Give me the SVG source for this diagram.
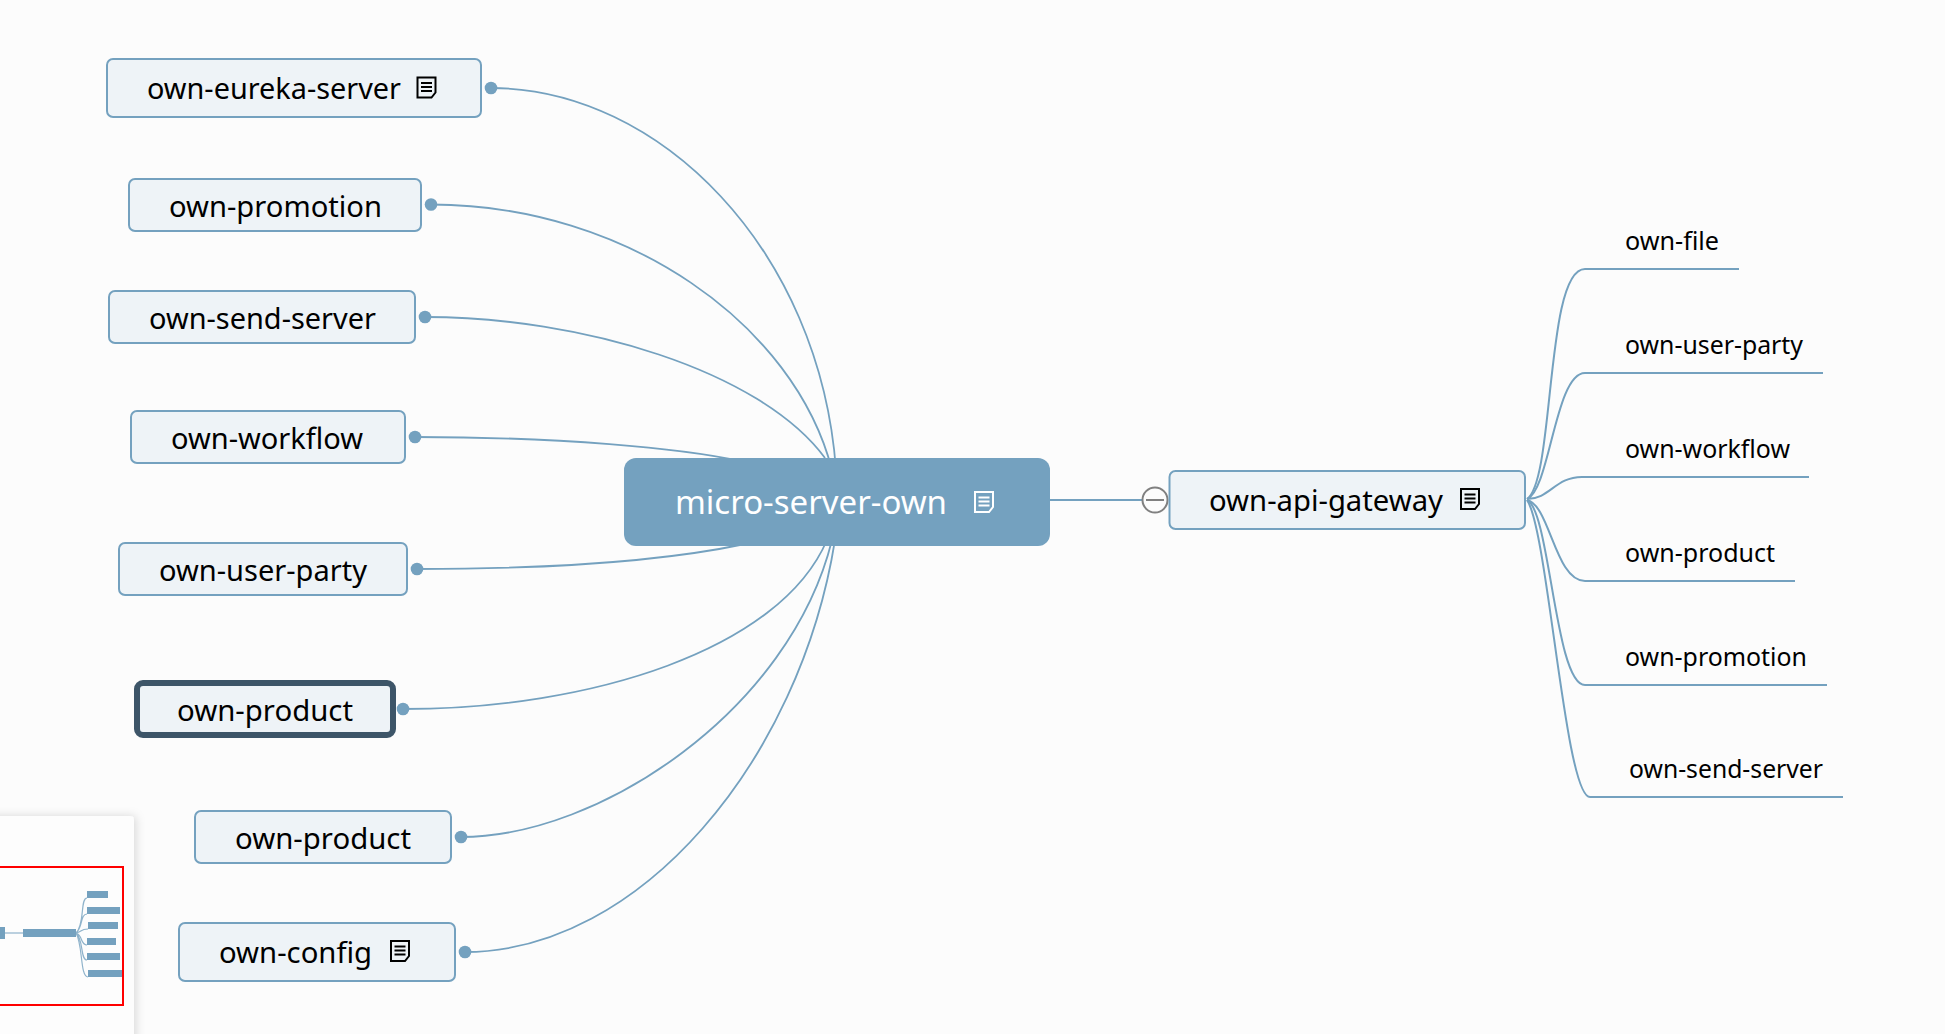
<svg xmlns="http://www.w3.org/2000/svg" width="1945" height="1034" viewBox="0 0 1945 1034">
<style>
text{font-family:"Noto Sans","Open Sans","Liberation Sans",sans-serif;fill:#000;}
.box{fill:#eef3f7;stroke:#74a1bf;stroke-width:2;}
.sel{fill:#eef3f7;stroke:#3d5568;stroke-width:6;}
.t{font-size:29px;}
.s{font-size:24.500px;}
.c{fill:none;stroke:#74a1bf;stroke-width:1.8;}
.b{fill:none;stroke:#74a1bf;stroke-width:2;}
.d{fill:#74a1bf;}
.m{fill:#74a1bf;}
.mc{fill:none;stroke:#8fb3cb;stroke-width:1.2;}
</style>
<defs>
<filter id="sh" x="-20%" y="-20%" width="140%" height="140%"><feDropShadow dx="2" dy="0" stdDeviation="5" flood-color="#000" flood-opacity="0.14"/></filter>
<g id="note"><path d="M1,1H19V16L15,21H1Z" fill="none" stroke="currentColor" stroke-width="2"/><path d="M4.500,6.500H15.500M4.500,10.500H15.500M4.500,14.500H15.500" fill="none" stroke="currentColor" stroke-width="2"/></g>
</defs>
<rect width="1945" height="1034" fill="#fcfcfc"/>
<g id="connectors">
<path class="c" d="M491,88C660,88 820,250 836,470"/>
<path class="c" d="M431,204.500C627,204.500 795,325 832,470"/>
<path class="c" d="M425,317C580,317 760,370 825,458"/>
<path class="c" d="M415,437C560,437 680,448 740,461"/>
<path class="c" d="M417,569C540,569 660,562 745,544"/>
<path class="c" d="M403,709C590,709 780,650 827,540"/>
<path class="c" d="M461,837C600,837 790,710 832,540"/>
<path class="c" d="M465,952C640,952 800,760 835,540"/>
<path class="b" d="M1050,500H1143"/>
<path class="b" d="M1527,499C1555,480 1545,269 1585,269H1739"/>
<path class="b" d="M1527,499C1550,490 1555,373 1585,373H1823"/>
<path class="b" d="M1527,499C1550,499 1555,477 1582,477H1809"/>
<path class="b" d="M1527,500C1550,505 1555,581 1585,581H1795"/>
<path class="b" d="M1527,500C1550,510 1555,685 1585,685H1827"/>
<path class="b" d="M1527,500C1548,530 1565,797 1590,797H1843"/>
<circle class="d" cx="491" cy="88" r="6.300"/>
<circle class="d" cx="431" cy="204.500" r="6.300"/>
<circle class="d" cx="425" cy="317" r="6.300"/>
<circle class="d" cx="415" cy="437" r="6.300"/>
<circle class="d" cx="417" cy="569" r="6.300"/>
<circle class="d" cx="403" cy="709" r="6.300"/>
<circle class="d" cx="461" cy="837" r="6.300"/>
<circle class="d" cx="465" cy="952" r="6.300"/>
</g>
<g id="root">
<rect x="624" y="458" width="426" height="88" rx="12" fill="#74a1bf"/>
<text x="675" y="514" font-size="33" textLength="272" lengthAdjust="spacingAndGlyphs" style="fill:#fff">micro-server-own</text>
<use href="#note" x="974" y="491" color="#fff"/>
</g>
<g id="eureka">
<rect class="box" x="107" y="59" width="374" height="58" rx="6"/>
<text class="t" x="147" y="99" textLength="254" lengthAdjust="spacingAndGlyphs">own-eureka-server</text>
<use href="#note" x="416.500" y="76.500" color="#000"/>
</g>
<g id="promotion">
<rect class="box" x="129" y="179" width="292" height="52" rx="6"/>
<text class="t" x="169" y="217" textLength="213" lengthAdjust="spacingAndGlyphs">own-promotion</text>
</g>
<g id="send-server">
<rect class="box" x="109" y="291" width="306" height="52" rx="6"/>
<text class="t" x="149" y="329" textLength="227" lengthAdjust="spacingAndGlyphs">own-send-server</text>
</g>
<g id="workflow">
<rect class="box" x="131" y="411" width="274" height="52" rx="6"/>
<text class="t" x="171" y="449" textLength="192" lengthAdjust="spacingAndGlyphs">own-workflow</text>
</g>
<g id="user-party">
<rect class="box" x="119" y="543" width="288" height="52" rx="6"/>
<text class="t" x="159" y="581" textLength="208" lengthAdjust="spacingAndGlyphs">own-user-party</text>
</g>
<g id="product-selected">
<rect class="sel" x="137" y="683" width="256" height="52" rx="6"/>
<text class="t" x="177" y="721" textLength="176" lengthAdjust="spacingAndGlyphs">own-product</text>
</g>
<g id="product">
<rect class="box" x="195" y="811" width="256" height="52" rx="6"/>
<text class="t" x="235" y="849" textLength="176" lengthAdjust="spacingAndGlyphs">own-product</text>
</g>
<g id="config">
<rect class="box" x="179" y="923" width="276" height="58" rx="6"/>
<text class="t" x="219" y="963" textLength="153" lengthAdjust="spacingAndGlyphs">own-config</text>
<use href="#note" x="390" y="940" color="#000"/>
</g>
<g id="collapse">
<circle cx="1155" cy="500" r="12.500" fill="#fcfcfc" stroke="#808080" stroke-width="2"/>
<path d="M1146,500H1164" stroke="#808080" stroke-width="2"/>
</g>
<g id="gateway">
<rect class="box" x="1169.500" y="471" width="355.500" height="58" rx="6"/>
<text class="t" x="1209" y="511" textLength="234" lengthAdjust="spacingAndGlyphs">own-api-gateway</text>
<use href="#note" x="1460" y="488" color="#000"/>
</g>
<g id="child-file"><text class="s" x="1625" y="250" textLength="94" lengthAdjust="spacingAndGlyphs">own-file</text></g>
<g id="child-user-party"><text class="s" x="1625" y="354" textLength="178" lengthAdjust="spacingAndGlyphs">own-user-party</text></g>
<g id="child-workflow"><text class="s" x="1625" y="458" textLength="165" lengthAdjust="spacingAndGlyphs">own-workflow</text></g>
<g id="child-product"><text class="s" x="1625" y="562" textLength="150" lengthAdjust="spacingAndGlyphs">own-product</text></g>
<g id="child-promotion"><text class="s" x="1625" y="666" textLength="182" lengthAdjust="spacingAndGlyphs">own-promotion</text></g>
<g id="child-send-server"><text class="s" x="1629" y="778" textLength="194" lengthAdjust="spacingAndGlyphs">own-send-server</text></g>
<g id="minimap">
<rect x="-20" y="816" width="154" height="240" rx="4" fill="#fdfdfd" filter="url(#sh)"/>
<path class="mc" d="M5,933H23"/>
<path class="mc" d="M76,933C85,925 80,898 87,898M76,933C83,928 80,914 87,914M76,933C82,932 80,929 88,929M76,933C83,935 80,945 87,945M76,933C84,940 80,960 87,960M76,933C83,945 80,977 88,977"/>
<rect class="m" x="-2" y="927" width="7" height="12"/>
<rect class="m" x="23" y="929" width="53" height="8"/>
<rect class="m" x="87" y="891" width="21" height="7"/>
<rect class="m" x="87" y="907" width="33" height="7"/>
<rect class="m" x="88" y="922" width="30" height="7"/>
<rect class="m" x="87" y="938" width="29" height="7"/>
<rect class="m" x="87" y="953" width="33" height="7"/>
<rect class="m" x="88" y="970" width="34" height="7"/>
<rect x="-4" y="867" width="127" height="138" fill="none" stroke="#f00" stroke-width="2"/>
</g>
</svg>
